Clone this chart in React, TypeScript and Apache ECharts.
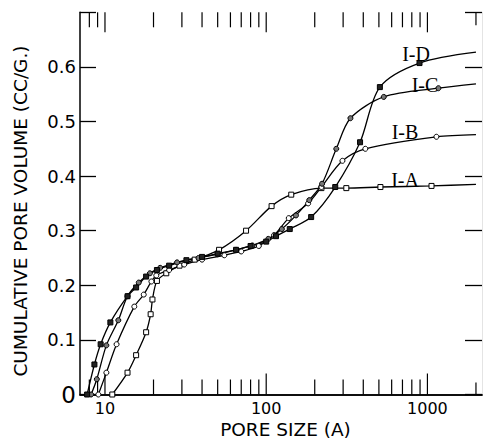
import React, { useEffect, useRef } from "react";
import * as echarts from "echarts";

// Pore size (Å) and cumulative pore volume (cc/g)
const IA_X = [11.1, 13.8, 15.6, 18.0, 19.2, 19.7, 21.0, 24, 29, 36, 51, 75, 108, 143, 220, 314, 511, 1060, 2000];
const IA_Y = [0.0, 0.04, 0.072, 0.114, 0.147, 0.174, 0.208, 0.222, 0.236, 0.247, 0.265, 0.3, 0.345, 0.366, 0.378, 0.378, 0.38, 0.382, 0.385];

const IB_X = [9.1, 10.2, 11.8, 15.2, 17.4, 19.4, 20.8, 25, 31, 40, 55, 70, 90, 112, 138, 182, 220, 297, 412, 1137, 2000];
const IB_Y = [0.0, 0.04, 0.092, 0.161, 0.183, 0.207, 0.218, 0.228, 0.238, 0.247, 0.255, 0.262, 0.272, 0.292, 0.323, 0.35, 0.38, 0.428, 0.45, 0.472, 0.476];

const IC_X = [8.2, 8.9, 10.2, 12.1, 13.8, 16.2, 19.0, 22, 28, 38, 50, 65, 82, 103, 125, 153, 185, 222, 272, 333, 536, 1170, 2000];
const IC_Y = [0.0, 0.028, 0.09, 0.136, 0.18, 0.205, 0.222, 0.232, 0.242, 0.25, 0.257, 0.265, 0.273, 0.285, 0.303, 0.328, 0.356, 0.386, 0.45, 0.506, 0.545, 0.561, 0.569];

const ID_X = [7.75, 8.6, 9.4, 10.8, 13.8, 15.6, 18.0, 21.0, 25, 32, 40, 50, 65, 80, 100, 115, 140, 190, 268, 382, 507, 893, 2000];
const ID_Y = [0.0, 0.055, 0.092, 0.132, 0.18, 0.196, 0.216, 0.228, 0.236, 0.246, 0.252, 0.258, 0.265, 0.272, 0.28, 0.29, 0.303, 0.325, 0.38, 0.462, 0.563, 0.607, 0.627];

const SERIES_NAMES = ["I-A", "I-B", "I-C", "I-D"];

// Log-axis tick marks (Å)
const X_TICKS = [8, 9, 10, 20, 30, 40, 50, 60, 70, 80, 90, 100, 200, 300, 400, 500, 600, 700, 800, 900, 1000, 2000];
const X_MAJOR = [10, 100, 1000];
const X_LABELS = [10, 100, 1000];

const Y_MIN = 0;
const Y_MAX = 0.7;
const Y_STEP = 0.1;

const FONT = "DejaVu Sans";

function buildData(xs: number[], ys: number[]) {
  return xs.map((x, i) =>
    i === xs.length - 1 ? { value: [x, ys[i]], symbol: "none" } : [x, ys[i]]
  );
}

export default function App() {
  const ref = useRef<HTMLDivElement>(null);

  useEffect(() => {
    document.body.style.margin = "0";
    if (!ref.current) return;
    const chart = echarts.init(ref.current, undefined, { renderer: "svg" });

    const lineSeries = (name: string, xs: number[], ys: number[], symbol: string, fill: string) => ({
      name,
      type: "line",
      xAxisIndex: 0,
      yAxisIndex: 0,
      data: buildData(xs, ys),
      smooth: 0.3,
      symbol,
      symbolSize: 5,
      showAllSymbol: true,
      lineStyle: { color: "#000", width: 1.3 },
      itemStyle: { color: fill, borderColor: "#000", borderWidth: 1 },
      z: 3,
    });

    const option: any = {
      animation: false,
      backgroundColor: "#fff",
      grid: { left: 80, right: 0, top: 12.3, bottom: 43.5, containLabel: false },
      xAxis: [
        {
          type: "log",
          logBase: 10,
          min: 7,
          max: 2180,
          position: "bottom",
          axisLine: { show: true, lineStyle: { color: "#000", width: 1.5 } },
          axisTick: { show: false },
          minorTick: { show: false },
          splitLine: { show: false },
          axisLabel: {
            show: true,
            margin: 6,
            color: "#000",
            fontFamily: FONT,
            fontSize: 16,
            formatter: (v: number) => {
              const r = Math.round(v);
              return X_LABELS.indexOf(r) >= 0 ? String(r) : "";
            },
          },
        },
        {
          type: "log",
          logBase: 10,
          min: 7,
          max: 2180,
          position: "top",
          axisLine: { show: true, lineStyle: { color: "#000", width: 1.5 } },
          axisTick: { show: false },
          axisLabel: { show: false },
          splitLine: { show: false },
        },
      ],
      yAxis: [
        {
          type: "value",
          min: Y_MIN,
          max: Y_MAX,
          interval: Y_STEP,
          position: "left",
          axisLine: { show: true, lineStyle: { color: "#000", width: 1.5 } },
          axisTick: { show: true, inside: true, length: 16, lineStyle: { color: "#000", width: 1.3 } },
          splitLine: { show: false },
          axisLabel: {
            margin: 4,
            color: "#000",
            fontFamily: FONT,
            fontSize: 18,
            formatter: (v: number) => {
              if (Math.abs(v) < 1e-9) return "{z|0}";
              if (Math.abs(v - Y_MAX) < 1e-9) return "";
              return v.toFixed(1);
            },
            rich: { z: { fontFamily: FONT, fontSize: 23, color: "#000" } },
          },
        },
        {
          type: "value",
          min: Y_MIN,
          max: Y_MAX,
          interval: Y_STEP,
          position: "right",
          axisLine: { show: true, lineStyle: { color: "#e4e4e4", width: 1 } },
          axisTick: { show: true, inside: true, length: 17, lineStyle: { color: "#000", width: 1.3 } },
          splitLine: { show: false },
          axisLabel: { show: false },
        },
      ],
      series: [
        lineSeries(SERIES_NAMES[0], IA_X, IA_Y, "rect", "#fff"),
        lineSeries(SERIES_NAMES[1], IB_X, IB_Y, "circle", "#fff"),
        lineSeries(SERIES_NAMES[2], IC_X, IC_Y, "circle", "#777"),
        lineSeries(SERIES_NAMES[3], ID_X, ID_Y, "rect", "#222"),
        {
          type: "custom",
          xAxisIndex: 0,
          yAxisIndex: 0,
          silent: true,
          clip: false,
          z: 2,
          encode: { x: 0, y: 1 },
          data: X_TICKS.map((v) => [v, 0, X_MAJOR.indexOf(v) >= 0 ? 1 : 0]),
          renderItem: (params: any, api: any) => {
            const v = api.value(0);
            const major = api.value(2) === 1;
            const b = api.coord([v, Y_MIN]);
            const t = api.coord([v, Y_MAX]);
            const lenB = major ? 21 : v >= 2000 ? 12 : 15;
            const lenT = major ? 20 : v >= 2000 ? 13 : 15;
            const style = { stroke: "#000", lineWidth: 1.2 };
            return {
              type: "group",
              children: [
                { type: "line", shape: { x1: b[0], y1: b[1], x2: b[0], y2: b[1] - lenB }, style },
                { type: "line", shape: { x1: t[0], y1: t[1], x2: t[0], y2: t[1] + lenT }, style },
              ],
            };
          },
        },
      ],
      graphic: [
        {
          type: "text",
          x: 20,
          y: 211,
          rotation: Math.PI / 2,
          style: {
            text: "CUMULATIVE PORE VOLUME (CC/G.)",
            fontFamily: FONT,
            fontSize: 18.5,
            fill: "#000",
            align: "center",
            verticalAlign: "middle",
          },
        },
        {
          type: "text",
          x: 285.5,
          y: 429,
          style: {
            text: "PORE SIZE (A)",
            fontFamily: FONT,
            fontSize: 18.5,
            fill: "#000",
            align: "center",
            verticalAlign: "middle",
          },
        },
        {
          type: "text",
          x: 416,
          y: 54,
          style: { text: "I-D", fontFamily: "Liberation Serif", fontSize: 20, fill: "#000", align: "center", verticalAlign: "middle" },
        },
        {
          type: "text",
          x: 425,
          y: 85,
          style: { text: "I-C", fontFamily: "Liberation Serif", fontSize: 20, fill: "#000", align: "center", verticalAlign: "middle" },
        },
        {
          type: "text",
          x: 405,
          y: 132,
          style: { text: "I-B", fontFamily: "Liberation Serif", fontSize: 20, fill: "#000", align: "center", verticalAlign: "middle" },
        },
        {
          type: "text",
          x: 405,
          y: 180,
          style: { text: "I-A", fontFamily: "Liberation Serif", fontSize: 20, fill: "#000", align: "center", verticalAlign: "middle" },
        },
      ],
    };

    chart.setOption(option);
    return () => chart.dispose();
  }, []);

  return <div ref={ref} style={{ width: 485, height: 438 }} />;
}
